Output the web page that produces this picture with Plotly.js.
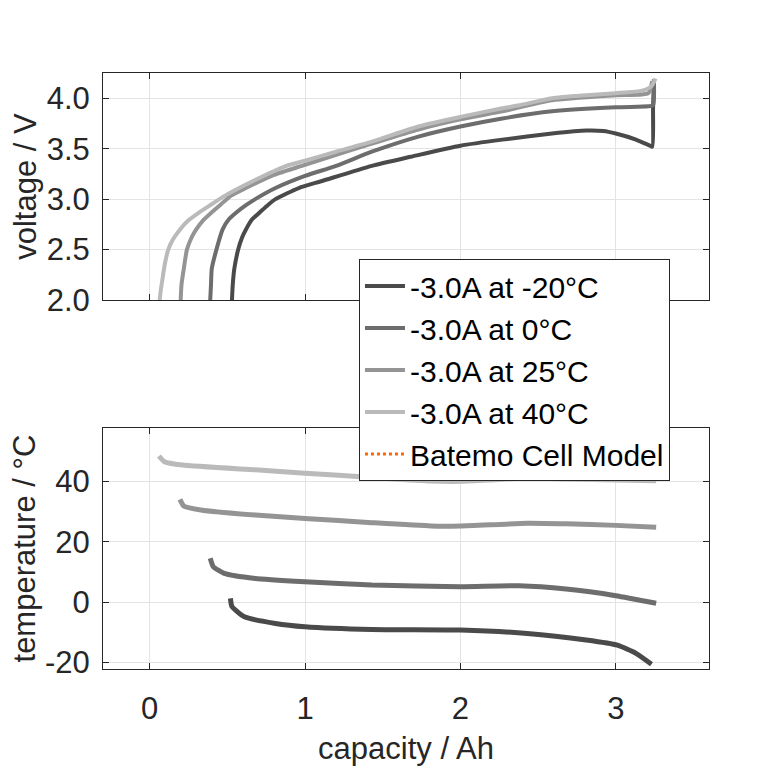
<!DOCTYPE html>
<html>
<head>
<meta charset="utf-8">
<script src="https://cdn.plot.ly/plotly-3.0.1.min.js"></script>
<style>
  html, body { margin: 0; padding: 0; background: #fff; }
  #chart { width: 781px; height: 781px; }
</style>
</head>
<body>
<div id="chart"></div>
<script>
// legend names
var names = ['-3.0A at -20°C', '-3.0A at 0°C', '-3.0A at 25°C', '-3.0A at 40°C'];
var modelName = 'Batemo Cell Model';

// tick labels
var voltTicks = [2.0, 2.5, 3.0, 3.5, 4.0];
var tempTicks = [-20, 0, 20, 40];
var tempTickText = ['-20', '0', '20', '40'];
var capTicks = [0, 1, 2, 3];

// voltage curves (capacity in Ah, voltage in V)
var capV_m20 = [0.53, 0.535, 0.545, 0.57, 0.595, 0.62, 0.66, 0.71, 0.76, 0.81, 0.96, 1.11, 1.43, 1.68, 2.0, 2.27, 2.59, 2.81, 2.92, 3.0, 3.13, 3.22, 3.235, 3.24, 3.245];
var volt_m20 = [2.0, 2.15, 2.31, 2.5, 2.62, 2.70, 2.80, 2.87, 2.94, 3.0, 3.11, 3.18, 3.33, 3.42, 3.53, 3.59, 3.65, 3.68, 3.675, 3.65, 3.59, 3.53, 3.52, 3.9, 4.16];

var capV_0 = [0.39, 0.395, 0.40, 0.43, 0.47, 0.51, 0.56, 0.62, 0.68, 0.81, 1.0, 1.2, 1.43, 1.73, 2.0, 2.27, 2.59, 3.0, 3.21, 3.24, 3.245];
var volt_0 = [2.0, 2.15, 2.31, 2.5, 2.70, 2.80, 2.87, 2.94, 3.0, 3.11, 3.23, 3.33, 3.47, 3.62, 3.72, 3.80, 3.87, 3.91, 3.92, 3.93, 4.19];

var capV_25 = [0.20, 0.205, 0.22, 0.24, 0.27, 0.30, 0.35, 0.40, 0.46, 0.52, 0.62, 0.8, 1.0, 1.2, 1.43, 1.73, 2.0, 2.27, 2.59, 3.0, 3.21, 3.234];
var volt_25 = [2.0, 2.15, 2.31, 2.5, 2.62, 2.70, 2.80, 2.87, 2.95, 3.03, 3.11, 3.24, 3.34, 3.44, 3.55, 3.69, 3.79, 3.87, 3.98, 4.03, 4.05, 4.17];

var capV_40 = [0.065, 0.072, 0.083, 0.097, 0.12, 0.15, 0.196, 0.25, 0.32, 0.40, 0.48, 0.64, 0.88, 1.0, 1.2, 1.43, 1.73, 2.0, 2.27, 2.38, 2.59, 2.81, 3.0, 3.17, 3.23, 3.256];
var volt_40 = [2.0, 2.1, 2.21, 2.35, 2.5, 2.6, 2.70, 2.79, 2.87, 2.95, 3.03, 3.16, 3.33, 3.38, 3.47, 3.57, 3.72, 3.815, 3.90, 3.93, 4.0, 4.03, 4.05, 4.075, 4.12, 4.195];

// temperature curves (capacity in Ah, temperature in °C)
var capT_m20 = [0.52, 0.53, 0.61, 0.81, 1.0, 1.43, 2.0, 2.43, 2.81, 3.01, 3.13, 3.23];
var temp_m20 = [1.2, -1.5, -4.9, -7.1, -8.2, -9.1, -9.3, -10.4, -12.6, -14.3, -17.0, -20.6];

var capT_0 = [0.39, 0.41, 0.48, 0.68, 1.0, 1.43, 2.0, 2.38, 2.68, 3.0, 3.26];
var temp_0 = [14.5, 11.7, 9.5, 7.8, 6.7, 5.6, 5.1, 5.4, 4.3, 2.1, -0.4];

var capT_25 = [0.195, 0.22, 0.33, 0.68, 1.0, 1.43, 1.81, 2.0, 2.43, 2.68, 3.0, 3.26];
var temp_25 = [34.0, 31.8, 30.5, 28.8, 27.7, 26.3, 25.2, 25.2, 26.1, 25.9, 25.4, 24.8];

var capT_40 = [0.06, 0.095, 0.21, 0.68, 1.0, 1.43, 1.81, 2.0, 2.18, 2.43, 2.68, 3.0, 3.26];
var temp_40 = [48.4, 46.5, 45.4, 43.8, 42.7, 41.3, 40.1, 40.0, 40.4, 41.1, 40.8, 40.4, 40.2];

var colors = ['#4a4a4a', '#6d6d6d', '#949494', '#bababa'];

var capV = [capV_m20, capV_0, capV_25, capV_40];
var volts = [volt_m20, volt_0, volt_25, volt_40];
var capT = [capT_m20, capT_0, capT_25, capT_40];
var temps = [temp_m20, temp_0, temp_25, temp_40];

var data = [];
for (var i = 0; i < 4; i++) {
  data.push({
    x: capV[i], y: volts[i], xaxis: 'x', yaxis: 'y',
    type: 'scatter', mode: 'lines', name: names[i], legendgroup: 'g' + i,
    line: {color: colors[i], width: 4, shape: 'spline', smoothing: 0.6}
  });
}
for (var j = 0; j < 4; j++) {
  data.push({
    x: capT[j], y: temps[j], xaxis: 'x2', yaxis: 'y2',
    type: 'scatter', mode: 'lines', showlegend: false,
    line: {color: colors[j], width: 5, shape: 'spline', smoothing: 0.5}
  });
}
// model entry: only shown in the legend
data.push({
  x: [null], y: [null], xaxis: 'x', yaxis: 'y', type: 'scatter', mode: 'lines',
  name: modelName, legendgroup: 'g4', showlegend: true,
  line: {color: '#FF6600', width: 3, dash: 'dot'}
});

var fam = 'Liberation Sans, Arial, sans-serif';
var fs = 31;

var axisCommon = {
  showline: true, linecolor: '#262626', linewidth: 1, mirror: 'ticks',
  ticks: 'inside', ticklen: 6, tickcolor: '#262626',
  showgrid: true, gridcolor: '#e3e3e3', gridwidth: 1, zeroline: false,
  tickfont: {family: fam, size: fs, color: '#262626'}
};
function ax(extra) { return Object.assign({}, axisCommon, extra); }

var titleFont = {family: fam, size: fs, color: '#262626'};

var layout = {
  width: 781, height: 781,
  paper_bgcolor: '#ffffff', plot_bgcolor: '#ffffff',
  margin: {l: 103, r: 72, t: 73, b: 112},
  font: {family: fam, color: '#262626'},
  showlegend: true,
  xaxis: ax({domain: [0, 1], range: [-0.3, 3.6], tickvals: capTicks, showticklabels: false, anchor: 'y'}),
  yaxis: ax({domain: [0.619, 1], range: [2.0, 4.25], tickvals: voltTicks, tickformat: '.1f', anchor: 'x',
             ticklabelstandoff: 6,
             title: {text: 'voltage / V', font: titleFont, standoff: 0}}),
  xaxis2: ax({domain: [0, 1], range: [-0.3, 3.6], tickvals: capTicks, anchor: 'y2',
              ticklabelstandoff: 12,
              title: {text: 'capacity / Ah', font: titleFont, standoff: 12}}),
  yaxis2: ax({domain: [0, 0.404], range: [-22.2, 57.6], tickvals: tempTicks, ticktext: tempTickText, anchor: 'x2',
              ticklabelstandoff: 6,
              title: {text: 'temperature / °C', font: titleFont, standoff: 0}}),
  legend: {
    x: 0.4224, y: 0.688, xanchor: 'left', yanchor: 'top',
    bgcolor: '#ffffff', bordercolor: '#262626', borderwidth: 1,
    font: {family: fam, size: 30, color: '#000000'},
    tracegroupgap: 0, itemwidth: 40
  }
};

Plotly.newPlot('chart', data, layout, {displayModeBar: false, staticPlot: true});
</script>
</body>
</html>
